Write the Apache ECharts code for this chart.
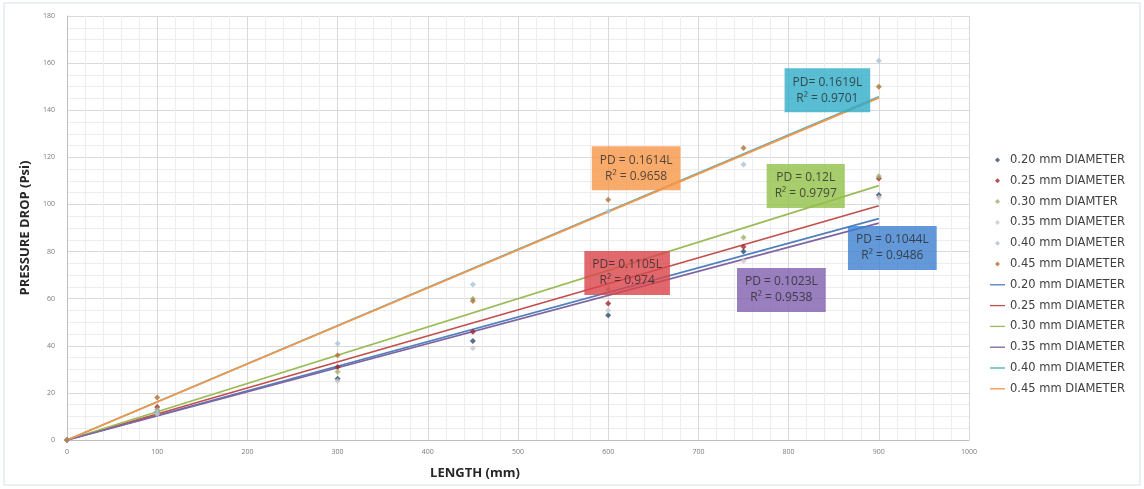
<!DOCTYPE html>
<html>
<head>
<meta charset="utf-8">
<script src="https://cdn.jsdelivr.net/npm/echarts@6/dist/echarts.min.js"></script>
<style>
  html, body { margin: 0; padding: 0; background: #fff; }
  #chart { width: 1144px; height: 489px; }
</style>
</head>
<body>
<div id="chart"></div>
<script>
// measured lengths (mm)
const lengths = [100, 300, 450, 600, 750, 900]

// pressure drop (Psi) per diameter
const pd020 = [12, 26, 42, 53, 80, 104]
const pd025 = [14, 31, 46, 58, 82, 111]
const pd030 = [13, 29, 60, 64, 86, 112]
const pd035 = [11, 25, 39, 55, 76, 103]
const pd040 = [12, 41, 66, 97, 117, 161]
const pd045 = [18, 36, 59, 102, 124, 150]

const pointNames = ['0.20 mm DIAMETER', '0.25 mm DIAMETER', '0.30 mm DIAMTER',
  '0.35 mm DIAMETER', '0.40 mm DIAMETER', '0.45 mm DIAMETER']
// trailing space keeps the trendline legend entries separate
const lineNames = ['0.20 mm DIAMETER ', '0.25 mm DIAMETER ', '0.30 mm DIAMETER ',
  '0.35 mm DIAMETER ', '0.40 mm DIAMETER ', '0.45 mm DIAMETER ']

// fitted trendlines PD = k * L (as printed on the chart)
const slopes = [0.1044, 0.1105, 0.12, 0.1023, 0.1619, 0.1614]
const fitText = ['PD = 0.1044L', 'PD= 0.1105L', 'PD = 0.12L', 'PD = 0.1023L', 'PD= 0.1619L', 'PD = 0.1614L']
const r2Text = ['R² = 0.9486', 'R² = 0.974', 'R² = 0.9797', 'R² = 0.9538', 'R² = 0.9701', 'R² = 0.9658']
// where each equation box sits, in axis units
const boxL = [915, 621, 819, 792, 843, 631]
const boxPD = [81.5, 70.9, 107.8, 63.7, 148.5, 115.4]

const xTicks = { min: 0, max: 1000, step: 100 }
const yTicks = { min: 0, max: 180, step: 20 }

const allPD = [pd020, pd025, pd030, pd035, pd040, pd045]
const markerColor = ['#2E4A72', '#A0262C', '#9BB06A', '#C9C9C9', '#A9C3D6', '#B0703A']
const lineColor = ['#4F81BD', '#C0504D', '#9BBB59', '#8064A2', '#4BACC6', '#F79646']
const boxColor = ['#3C7FD0', '#D9434A', '#92C047', '#7F5FAE', '#2FAEC8', '#F79646']

const font = "'Open Sans', sans-serif"
const dotIcon = 'path://M2,0 L4,2 L2,4 L0,2 Z'
const lineIcon = 'path://M0,0 H16 V1.4 H0 Z'

function initChart() {
  const myChart = echarts.init(document.getElementById('chart'))
  const series = []

  allPD.forEach((vals, i) => {
    series.push({
      name: pointNames[i],
      type: 'scatter',
      symbol: 'diamond',
      symbolSize: 6,
      itemStyle: { color: markerColor[i] },
      z: 5,
      data: [[0, 0]].concat(lengths.map((l, j) => [l, vals[j]]))
    })
  })

  allPD.forEach((vals, i) => {
    const lastL = lengths[lengths.length - 1]
    series.push({
      name: lineNames[i],
      type: 'line',
      symbol: 'none',
      silent: true,
      lineStyle: { color: lineColor[i], width: 1.8 },
      itemStyle: { color: lineColor[i] },
      z: 3,
      data: [[0, 0], [lastL, slopes[i] * lastL]]
    })
  })

  series.push({
    name: 'equations',
    type: 'scatter',
    symbolSize: 0,
    silent: true,
    z: 10,
    data: boxL.map((l, i) => ({
      value: [l, boxPD[i]],
      label: {
        show: true,
        position: 'inside',
        formatter: fitText[i] + '\n' + r2Text[i],
        backgroundColor: boxColor[i],
        color: '#2a2a2a',
        fontSize: 12,
        fontFamily: font,
        lineHeight: 16,
        align: 'center',
        padding: [6, 8]
      }
    }))
  })

  const legendData = pointNames.map((n) => ({ name: n, icon: dotIcon }))
    .concat(lineNames.map((n) => ({ name: n, icon: lineIcon })))

  const option = {
    animation: false,
    backgroundColor: '#fff',
    textStyle: { fontFamily: font },
    graphic: [{
      type: 'rect',
      shape: { x: 4, y: 3, width: 1136, height: 482 },
      style: { fill: 'none', stroke: '#D6DEE6', lineWidth: 1 },
      silent: true
    }],
    grid: { left: 67, right: 175, top: 16, bottom: 49 },
    legend: {
      orient: 'vertical',
      left: 985,
      top: 149,
      itemWidth: 15,
      itemHeight: 5,
      itemGap: 8.8,
      symbolKeepAspect: true,
      data: legendData,
      textStyle: { fontSize: 11.5, color: '#404040', fontFamily: "'DejaVu Sans', sans-serif", lineHeight: 12 }
    },
    xAxis: {
      type: 'value',
      min: xTicks.min,
      max: xTicks.max,
      interval: xTicks.step,
      name: 'LENGTH (mm)',
      nameLocation: 'middle',
      nameGap: 27,
      nameTextStyle: { fontSize: 13, fontWeight: 'bold', color: '#262626', padding: [0, 86, 0, 0] },
      axisLine: { lineStyle: { color: '#BFBFBF' } },
      axisTick: { show: false },
      axisLabel: { fontSize: 7, color: '#7a7a7a', margin: 8, formatter: (v) => String(v) },
      splitLine: { lineStyle: { color: '#D9D9D9' } },
      minorTick: { show: false, splitNumber: 5 },
      minorSplitLine: { show: true, lineStyle: { color: '#EDEDED' } }
    },
    yAxis: {
      type: 'value',
      min: yTicks.min,
      max: yTicks.max,
      interval: yTicks.step,
      name: 'PRESSURE DROP (Psi)',
      nameLocation: 'middle',
      nameGap: 32,
      nameTextStyle: { fontSize: 13, fontWeight: 'bold', color: '#262626' },
      axisLine: { show: true, lineStyle: { color: '#BFBFBF' } },
      axisTick: { show: false },
      axisLabel: { fontSize: 7, color: '#7a7a7a', margin: 12 },
      splitLine: { lineStyle: { color: '#D9D9D9' } },
      minorTick: { show: false, splitNumber: 4 },
      minorSplitLine: { show: true, lineStyle: { color: '#EDEDED' } }
    },
    series: series
  }

  myChart.setOption(option, true)
}

initChart()
</script>
</body>
</html>
